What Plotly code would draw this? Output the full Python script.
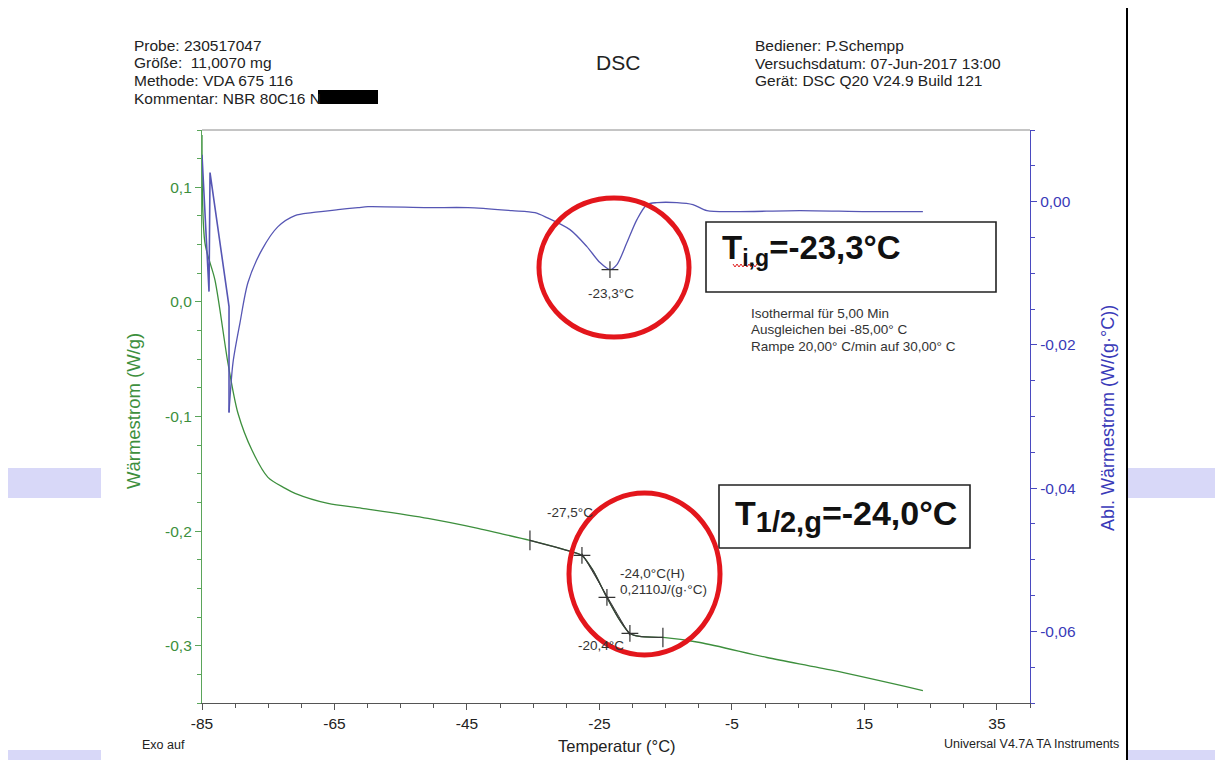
import plotly.graph_objects as go

# ---------------- data ----------------
T_heat = [-85.0, -84.55, -83.04, -81.08, -79.57, -77.45, -75.04, -72.5, -70.96, -65.98, -60.85,
          -50.89, -43.34, -40.02, -35.49, -29.91, -27.64, -25.98, -23.87, -21.91, -20.40,
          -18.89, -15.42, -9.83, 0.28, 10.25, 23.83]
heat_flow = [0.1456, 0.0513, 0.0190, -0.0535, -0.0972, -0.1295, -0.1531, -0.1625, -0.1670, -0.1758, -0.1801,
             -0.1889, -0.1976, -0.2020, -0.2081, -0.2168, -0.2212, -0.2343, -0.2579, -0.2779, -0.2893,
             -0.2919, -0.2928, -0.2972, -0.3103, -0.3216, -0.3391]

# initial equilibration spikes of the derivative signal
T_deriv_spike = [-85.0, -83.94, -83.79, -80.92, -80.92]
deriv_spike = [0.00655, -0.01256, 0.00405, -0.01465, -0.02945]
# derivative signal during the ramp
T_deriv = [-80.92, -80.32, -79.26, -78.06, -75.94, -73.53,
           -70.96, -68.40, -64.47, -61.45, -59.94, -50.89, -44.85, -38.21, -34.74, -32.92,
           -29.45, -26.89, -24.92, -23.41, -22.36, -20.85, -19.34, -17.83, -16.32, -13.30,
           -10.89, -8.77, -4.85, 5.26, 15.38, 23.83]
deriv = [-0.02945, -0.02247, -0.01689, -0.01130, -0.00670, -0.00349,
         -0.00195, -0.00154, -0.00112, -0.00084, -0.00070, -0.00084, -0.00084, -0.00126, -0.00154, -0.00223,
         -0.00391, -0.00628, -0.00851, -0.00949, -0.00879, -0.00572, -0.00251, -0.00042, -0.00014, -0.00014,
         -0.00042, -0.00126, -0.00140, -0.00126, -0.00140, -0.00140]

# glass transition analysis (onset / mid / end)
T_analysis = [-35.49, -29.91, -27.64, -25.98, -23.87, -21.91, -20.40, -18.89, -15.42]
hf_analysis = [-0.2081, -0.2168, -0.2212, -0.2343, -0.2579, -0.2779, -0.2893, -0.2919, -0.2928]
T_tangent = [-27.64, -20.40]
hf_tangent = [-0.2195, -0.2911]
T_limits = [-35.49, -15.42]
hf_limits = [-0.2081, -0.2928]
T_points = [-27.64, -23.87, -20.40]
hf_points = [-0.2212, -0.2579, -0.2893]
T_peak = [-23.41]
d_peak = [-0.00949]

x_ticks = [-85, -65, -45, -25, -5, 15, 35]
x_ticktext = ["-85", "-65", "-45", "-25", "-5", "15", "35"]
y1_ticks = [0.1, 0.0, -0.1, -0.2, -0.3]
y1_ticktext = ["0,1", "0,0", "-0,1", "-0,2", "-0,3"]
y2_ticks = [0.0, -0.02, -0.04, -0.06]
y2_ticktext = ["0,00", "-0,02", "-0,04", "-0,06"]

# ---------------- layout helpers ----------------
W, H = 1215, 760
L, R, TOP, BOT = 202, 1030, 130, 703


def px(x):
    return (x - L) / (R - L)


def py(y):
    return (BOT - y) / (BOT - TOP)


FONT = "Liberation Sans, Arial, sans-serif"
GREEN = "#3d8f3d"
GREEN_AX = "#5aa55a"
BLUE = "#5656b4"
BLUE_AX = "#4a4ac0"
GREY = "#333333"

fig = go.Figure()
fig.add_trace(go.Scatter(x=T_heat, y=heat_flow, mode="lines", yaxis="y",
                         line=dict(color=GREEN, width=1.3, shape="spline", smoothing=0.8),
                         showlegend=False))
fig.add_trace(go.Scatter(x=T_deriv_spike, y=deriv_spike, mode="lines", yaxis="y2",
                         line=dict(color=BLUE, width=1.6), showlegend=False))
fig.add_trace(go.Scatter(x=T_deriv, y=deriv, mode="lines", yaxis="y2",
                         line=dict(color=BLUE, width=1.3, shape="spline", smoothing=0.8),
                         showlegend=False))
fig.add_trace(go.Scatter(x=T_analysis, y=hf_analysis, mode="lines", yaxis="y",
                         line=dict(color="#3a3a3a", width=1.3, shape="spline", smoothing=0.6),
                         showlegend=False))
fig.add_trace(go.Scatter(x=T_tangent, y=hf_tangent, mode="lines", yaxis="y",
                         line=dict(color="#3a3a3a", width=1), showlegend=False))
fig.add_trace(go.Scatter(x=T_limits, y=hf_limits, mode="markers", yaxis="y",
                         marker=dict(symbol="line-ns", size=14, line=dict(color="#333", width=1.2)),
                         showlegend=False))
fig.add_trace(go.Scatter(x=T_points, y=hf_points, mode="markers", yaxis="y",
                         marker=dict(symbol="cross-thin", size=12, line=dict(color="#333", width=1.2)),
                         showlegend=False))
fig.add_trace(go.Scatter(x=T_peak, y=d_peak, mode="markers", yaxis="y2",
                         marker=dict(symbol="cross-thin", size=12, line=dict(color="#333", width=1.2)),
                         showlegend=False))

shapes = []
# top frame line
shapes.append(dict(type="line", xref="paper", yref="paper", x0=0, x1=1, y0=1, y1=1,
                   line=dict(color="#8a8a8a", width=1)))
# page border line on the right
shapes.append(dict(type="line", xref="paper", yref="paper", x0=px(1127), x1=px(1127),
                   y0=py(8), y1=py(762), line=dict(color="black", width=2)))
# lavender artefact bars
for (x0, x1, y0, y1) in [(8, 101, 468, 498), (1128, 1215, 468, 498),
                         (8, 101, 750, 762), (1128, 1215, 750, 762)]:
    shapes.append(dict(type="rect", xref="paper", yref="paper", x0=px(x0), x1=px(x1),
                       y0=py(y1), y1=py(y0), fillcolor="#d8d8f8", line=dict(width=0), layer="below"))
# redaction
shapes.append(dict(type="rect", xref="paper", yref="paper", x0=px(318), x1=px(378),
                   y0=py(104), y1=py(90), fillcolor="black", line=dict(width=0)))
# boxes
shapes.append(dict(type="rect", xref="paper", yref="paper", x0=px(706), x1=px(996),
                   y0=py(292), y1=py(222), line=dict(color="#222", width=1.6)))
shapes.append(dict(type="rect", xref="paper", yref="paper", x0=px(719), x1=px(970),
                   y0=py(548), y1=py(485), line=dict(color="#222", width=1.6)))
# red ellipses
shapes.append(dict(type="circle", xref="paper", yref="paper", x0=px(539), x1=px(689),
                   y0=py(337), y1=py(198), line=dict(color="#e3161c", width=5)))
shapes.append(dict(type="circle", xref="paper", yref="paper", x0=px(569), x1=px(720),
                   y0=py(655), y1=py(493), line=dict(color="#e3161c", width=5)))
# red wavy spell-check underline
zz = []
xw = 733
i = 0
while xw <= 757:
    yw = 264 if i % 2 == 0 else 267
    zz.append(f"{px(xw):.5f},{py(yw):.5f}")
    xw += 2
    i += 1
shapes.append(dict(type="path", xref="paper", yref="paper", path="M" + " L".join(zz),
                   line=dict(color="#e02020", width=1)))

ann = []


def text(x, y, s, size, color=GREY, xanchor="left", angle=0):
    ann.append(dict(x=px(x), y=py(y), xref="paper", yref="paper", text=s, showarrow=False,
                    xanchor=xanchor, yanchor="middle", textangle=angle,
                    font=dict(family=FONT, size=size, color=color)))


# header
for i, s in enumerate(["Probe: 230517047", "Größe:  11,0070 mg", "Methode: VDA 675 116",
                       "Kommentar: NBR 80C16 N"]):
    text(132, 45 + i * 17.7, s, 15.5, "#222")
for i, s in enumerate(["Bediener: P.Schempp", "Versuchsdatum: 07-Jun-2017 13:00",
                       "Gerät: DSC Q20 V24.9 Build 121"]):
    text(753, 45 + i * 18, s, 15.5, "#222")
text(618, 62, "DSC", 21, "#222", xanchor="center")

# boxes
text(720, 250, "<b>T<sub>i,g</sub>=-23,3°C</b>", 33, "#111")
text(733, 516, "<b>T<sub><span style='font-size:29px'>1/2,g</span></sub>=-24,0°C</b>", 34, "#111")

# method text
for i, s in enumerate(["Isothermal für 5,00 Min", "Ausgleichen bei -85,00° C",
                       "Rampe 20,00° C/min auf 30,00° C"]):
    text(749, 313 + i * 16.5, s, 13.5, "#333")

# analysis labels
text(611, 293, "-23,3°C", 13.5, "#333", xanchor="center")
text(545, 512, "-27,5°C", 13.5, "#333")
text(618, 573, "-24,0°C(H)", 13.5, "#333")
text(618, 589, "0,2110J/(g·°C)", 13.5, "#333")
text(576, 645, "-20,4°C", 13.5, "#333")

# axis titles
text(133, 411, "Wärmestrom (W/g)", 18.5, GREEN, xanchor="center", angle=-90)
text(1108, 418, "Abl. Wärmestrom (W/(g·°C))", 18, "#3a3ab8", xanchor="center", angle=-90)
text(617, 746, "Temperatur (°C)", 16.5, "#222", xanchor="center")
text(140, 745, "Exo auf", 12.5, "#222")
text(1121, 744, "Universal V4.7A TA Instruments", 12.5, "#222", xanchor="right")

fig.update_layout(
    width=W, height=H,
    margin=dict(l=L, r=W - R, t=TOP, b=H - BOT, pad=0),
    paper_bgcolor="white", plot_bgcolor="white",
    showlegend=False,
    font=dict(family=FONT, size=15, color=GREY),
    xaxis=dict(range=[-85, 40], tickvals=x_ticks, ticktext=x_ticktext, showgrid=False,
               zeroline=False, showline=True, linecolor="#555", linewidth=1.2,
               ticks="outside", ticklen=6, tickcolor="#555",
               minor=dict(ticks="outside", ticklen=4, dtick=5, tick0=-85, tickcolor="#555"),
               tickfont=dict(size=15.5, color="#222")),
    yaxis=dict(range=[-0.35, 0.15], tickvals=y1_ticks, ticktext=y1_ticktext, showgrid=False,
               zeroline=False, showline=True, linecolor=GREEN_AX, linewidth=1.2,
               ticks="outside", ticklen=6, tickcolor=GREEN_AX,
               minor=dict(ticks="outside", ticklen=4, dtick=0.025, tick0=0, tickcolor=GREEN_AX),
               tickfont=dict(size=15.5, color=GREEN)),
    yaxis2=dict(range=[-0.07, 0.01], tickvals=y2_ticks, ticktext=y2_ticktext, overlaying="y",
                side="right", showgrid=False, zeroline=False, showline=True, linecolor=BLUE_AX,
                linewidth=1.2, ticks="outside", ticklen=6, tickcolor=BLUE_AX,
                minor=dict(ticks="outside", ticklen=4, dtick=0.005, tick0=0, tickcolor=BLUE_AX),
                tickfont=dict(size=15.5, color="#3a3ab8")),
    shapes=shapes,
    annotations=ann,
)

fig.write_html("out.html")
